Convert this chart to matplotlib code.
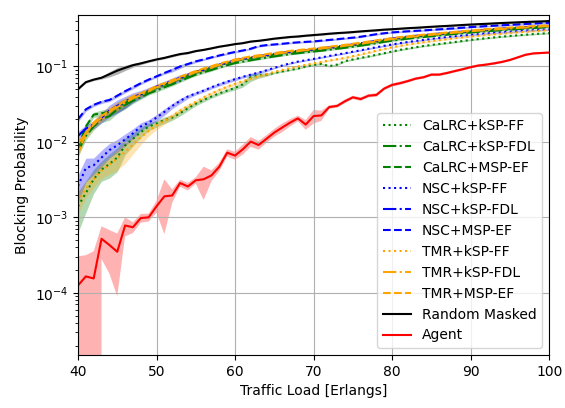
import numpy as np
import matplotlib
matplotlib.use('Agg')
import matplotlib.pyplot as plt

# traffic load axis
load = np.arange(40, 101)

# mean blocking probability per load
cal_ff = [0.0014, 0.0021, 0.0032, 0.0043, 0.0051, 0.0062, 0.0090, 0.0110, 0.0135, 0.0160,
          0.0175, 0.0195, 0.021, 0.024, 0.028, 0.032, 0.036, 0.040, 0.044, 0.048,
          0.052, 0.058, 0.072, 0.076, 0.078, 0.082, 0.086, 0.090, 0.094, 0.100,
          0.105, 0.108, 0.101, 0.106, 0.118, 0.124, 0.130, 0.136, 0.143, 0.150,
          0.158, 0.166, 0.173, 0.180, 0.187, 0.193, 0.199, 0.205, 0.211, 0.218,
          0.225, 0.231, 0.237, 0.243, 0.249, 0.254, 0.259, 0.264, 0.269, 0.273,
          0.277]
cal_fdl = [0.0075, 0.012, 0.016, 0.020, 0.022, 0.027, 0.031, 0.035, 0.039, 0.044,
           0.048, 0.053, 0.058, 0.064, 0.071, 0.078, 0.084, 0.090, 0.097, 0.104,
           0.111, 0.116, 0.121, 0.126, 0.131, 0.136, 0.141, 0.146, 0.150, 0.154,
           0.158, 0.162, 0.167, 0.172, 0.177, 0.183, 0.189, 0.196, 0.204, 0.212,
           0.220, 0.227, 0.234, 0.240, 0.246, 0.252, 0.258, 0.264, 0.270, 0.276,
           0.282, 0.288, 0.293, 0.298, 0.303, 0.308, 0.313, 0.318, 0.323, 0.328,
           0.333]
cal_msp = [0.0085, 0.016, 0.023, 0.024, 0.025, 0.029, 0.033, 0.038, 0.042, 0.047,
           0.052, 0.057, 0.062, 0.069, 0.076, 0.083, 0.089, 0.096, 0.104, 0.111,
           0.118, 0.124, 0.129, 0.134, 0.139, 0.144, 0.149, 0.154, 0.158, 0.161,
           0.165, 0.170, 0.175, 0.180, 0.185, 0.191, 0.197, 0.204, 0.212, 0.220,
           0.228, 0.236, 0.243, 0.249, 0.255, 0.261, 0.267, 0.273, 0.279, 0.285,
           0.291, 0.297, 0.302, 0.307, 0.312, 0.317, 0.322, 0.327, 0.332, 0.337,
           0.342]
nsc_ff = [0.0026, 0.0045, 0.0049, 0.0062, 0.0078, 0.0090, 0.0108, 0.0130, 0.0160, 0.0180,
          0.021, 0.025, 0.030, 0.035, 0.040, 0.044, 0.048, 0.053, 0.058, 0.063,
          0.068, 0.073, 0.078, 0.083, 0.089, 0.096, 0.103, 0.110, 0.116, 0.121,
          0.126, 0.132, 0.138, 0.144, 0.150, 0.157, 0.164, 0.172, 0.180, 0.188,
          0.196, 0.204, 0.211, 0.218, 0.225, 0.232, 0.239, 0.245, 0.251, 0.257,
          0.263, 0.268, 0.274, 0.279, 0.284, 0.289, 0.294, 0.299, 0.303, 0.307,
          0.310]
nsc_fdl = [0.012, 0.015, 0.017, 0.021, 0.026, 0.030, 0.034, 0.039, 0.043, 0.048,
           0.054, 0.059, 0.064, 0.071, 0.078, 0.085, 0.091, 0.098, 0.106, 0.113,
           0.121, 0.127, 0.132, 0.137, 0.142, 0.147, 0.152, 0.157, 0.161, 0.165,
           0.169, 0.174, 0.179, 0.184, 0.190, 0.196, 0.203, 0.211, 0.219, 0.227,
           0.235, 0.242, 0.249, 0.255, 0.261, 0.267, 0.273, 0.279, 0.285, 0.291,
           0.297, 0.303, 0.308, 0.313, 0.318, 0.323, 0.328, 0.333, 0.338, 0.343,
           0.348]
nsc_msp = [0.020, 0.027, 0.031, 0.034, 0.036, 0.041, 0.047, 0.053, 0.060, 0.067,
           0.074, 0.082, 0.090, 0.100, 0.108, 0.117, 0.124, 0.132, 0.140, 0.148,
           0.156, 0.163, 0.172, 0.186, 0.192, 0.196, 0.200, 0.205, 0.209, 0.212,
           0.215, 0.220, 0.225, 0.230, 0.236, 0.241, 0.248, 0.258, 0.268, 0.276,
           0.283, 0.288, 0.293, 0.297, 0.301, 0.306, 0.311, 0.316, 0.321, 0.327,
           0.333, 0.338, 0.343, 0.347, 0.352, 0.356, 0.361, 0.366, 0.371, 0.375,
           0.380]
tmr_ff = [0.0016, 0.0024, 0.0032, 0.0042, 0.0050, 0.0060, 0.0074, 0.0092, 0.0115, 0.0140,
          0.0165, 0.019, 0.022, 0.026, 0.030, 0.034, 0.039, 0.044, 0.049, 0.054,
          0.059, 0.064, 0.069, 0.074, 0.079, 0.085, 0.090, 0.095, 0.100, 0.105,
          0.110, 0.115, 0.120, 0.125, 0.130, 0.137, 0.145, 0.153, 0.162, 0.171,
          0.180, 0.188, 0.196, 0.203, 0.210, 0.217, 0.224, 0.231, 0.238, 0.244,
          0.250, 0.256, 0.262, 0.268, 0.273, 0.279, 0.284, 0.289, 0.294, 0.299,
          0.303]
tmr_fdl = [0.0095, 0.013, 0.017, 0.021, 0.025, 0.029, 0.033, 0.038, 0.042, 0.047,
           0.053, 0.058, 0.063, 0.070, 0.077, 0.084, 0.090, 0.097, 0.105, 0.112,
           0.120, 0.126, 0.131, 0.136, 0.141, 0.146, 0.151, 0.156, 0.160, 0.164,
           0.168, 0.173, 0.178, 0.183, 0.188, 0.194, 0.200, 0.207, 0.215, 0.223,
           0.231, 0.238, 0.245, 0.251, 0.257, 0.263, 0.269, 0.275, 0.281, 0.287,
           0.293, 0.299, 0.304, 0.309, 0.314, 0.319, 0.324, 0.329, 0.334, 0.339,
           0.344]
tmr_msp = [0.0070, 0.013, 0.018, 0.022, 0.026, 0.030, 0.035, 0.040, 0.044, 0.049,
           0.055, 0.060, 0.066, 0.073, 0.080, 0.087, 0.094, 0.101, 0.109, 0.116,
           0.124, 0.130, 0.136, 0.141, 0.146, 0.151, 0.156, 0.161, 0.165, 0.169,
           0.173, 0.178, 0.183, 0.188, 0.194, 0.200, 0.207, 0.214, 0.222, 0.230,
           0.238, 0.245, 0.252, 0.258, 0.264, 0.270, 0.276, 0.282, 0.288, 0.294,
           0.300, 0.306, 0.312, 0.318, 0.323, 0.328, 0.333, 0.338, 0.343, 0.348,
           0.353]
rand_masked = [0.050, 0.062, 0.067, 0.071, 0.079, 0.088, 0.096, 0.104, 0.110, 0.117,
               0.124, 0.130, 0.138, 0.146, 0.151, 0.160, 0.166, 0.174, 0.183, 0.190,
               0.198, 0.204, 0.214, 0.219, 0.226, 0.234, 0.240, 0.246, 0.250, 0.256,
               0.261, 0.266, 0.272, 0.277, 0.281, 0.286, 0.292, 0.297, 0.302, 0.308,
               0.312, 0.317, 0.322, 0.326, 0.331, 0.336, 0.341, 0.345, 0.350, 0.355,
               0.360, 0.364, 0.368, 0.373, 0.377, 0.381, 0.385, 0.389, 0.393, 0.396,
               0.400]
agent = [1.25e-4, 1.65e-4, 1.55e-4, 5.2e-4, 4.3e-4, 3.5e-4, 7.8e-4, 7.4e-4, 9.8e-4, 1.0e-3,
         1.4e-3, 1.9e-3, 1.95e-3, 2.85e-3, 2.57e-3, 3.1e-3, 3.2e-3, 3.6e-3, 4.7e-3, 7.2e-3,
         6.6e-3, 8.0e-3, 0.0101, 0.0091, 0.0110, 0.0133, 0.0155, 0.018, 0.0205, 0.017,
         0.022, 0.0225, 0.029, 0.030, 0.0346, 0.039, 0.037, 0.041, 0.042, 0.051,
         0.057, 0.060, 0.064, 0.069, 0.072, 0.078, 0.078, 0.082, 0.087, 0.092,
         0.098, 0.103, 0.106, 0.110, 0.115, 0.122, 0.132, 0.143, 0.149, 0.151,
         0.153]

# spread (absolute std) of the agent runs
agent_std = [1.8e-4, 1.5e-4, 2.0e-4, 2.4e-4, 2.5e-4, 2.6e-4, 2.2e-4, 1.2e-4, 1.3e-4, 1.2e-4,
             2.5e-4, 1.3e-3, 4e-4, 3e-4, 3e-4, 3e-4, 1.5e-3, 6e-4, 6e-4, 8e-4,
             8e-4, 1.2e-3, 1.5e-3, 1.2e-3, 1.3e-3, 1.6e-3, 2.0e-3, 2.0e-3, 1.8e-3, 2.5e-3,
             4.5e-3, 3.5e-3, 1.5e-3, 1.5e-3, 2e-3, 2e-3, 2e-3, 2e-3, 2.5e-3, 2.5e-3,
             3e-3, 3e-3, 3e-3, 3e-3, 3e-3, 3.5e-3, 3.5e-3, 3.5e-3, 3.5e-3, 4e-3,
             4e-3, 4e-3, 4e-3, 4.5e-3, 4.5e-3, 4.5e-3, 5e-3, 5e-3, 5e-3, 5e-3,
             5e-3]

# relative spread for the heuristics (first 25 loads, after that it is small)
cal_ff_rel = [0.55, 0.45, 0.35, 0.30, 0.35, 0.35, 0.25, 0.20, 0.15, 0.12,
              0.10, 0.10, 0.08, 0.08, 0.08, 0.06, 0.06, 0.05, 0.05, 0.05,
              0.06, 0.08, 0.12, 0.08, 0.05]
cal_fdl_rel = [0.15, 0.12, 0.10, 0.10, 0.12, 0.12, 0.12, 0.08, 0.06, 0.05,
               0.05, 0.05, 0.05, 0.04, 0.04, 0.04, 0.04, 0.04, 0.03, 0.03,
               0.03, 0.03, 0.03, 0.03, 0.03]
cal_msp_rel = [0.12, 0.10, 0.08, 0.10, 0.12, 0.15, 0.15, 0.10, 0.06, 0.05,
               0.05, 0.05, 0.04, 0.04, 0.04, 0.04, 0.04, 0.04, 0.03, 0.03,
               0.03, 0.03, 0.03, 0.03, 0.03]
nsc_ff_rel = [0.40, 0.35, 0.25, 0.25, 0.22, 0.20, 0.18, 0.15, 0.12, 0.10,
              0.10, 0.10, 0.08, 0.08, 0.06, 0.05, 0.05, 0.05, 0.05, 0.05,
              0.05, 0.04, 0.04, 0.04, 0.04]
nsc_fdl_rel = [0.15, 0.12, 0.12, 0.15, 0.18, 0.20, 0.18, 0.15, 0.12, 0.10,
               0.08, 0.08, 0.10, 0.10, 0.06, 0.05, 0.04, 0.04, 0.03, 0.03,
               0.03, 0.03, 0.03, 0.03, 0.03]
nsc_msp_rel = [0.08, 0.06, 0.05, 0.05, 0.05, 0.05, 0.05, 0.05, 0.04, 0.04,
               0.04, 0.04, 0.06, 0.06, 0.04, 0.04, 0.03, 0.03, 0.03, 0.03,
               0.03, 0.03, 0.03, 0.03, 0.03]
tmr_ff_rel = [0.30, 0.25, 0.22, 0.22, 0.25, 0.30, 0.30, 0.25, 0.20, 0.15,
              0.12, 0.10, 0.08, 0.08, 0.06, 0.05, 0.05, 0.05, 0.05, 0.05,
              0.05, 0.04, 0.04, 0.04, 0.04]
tmr_fdl_rel = [0.12, 0.12, 0.10, 0.12, 0.12, 0.12, 0.10, 0.08, 0.06, 0.05,
               0.05, 0.05, 0.04, 0.04, 0.04, 0.04, 0.04, 0.03, 0.03, 0.03,
               0.03, 0.03, 0.03, 0.03, 0.03]
tmr_msp_rel = [0.12, 0.12, 0.10, 0.10, 0.12, 0.12, 0.10, 0.08, 0.06, 0.05,
               0.05, 0.05, 0.04, 0.04, 0.04, 0.04, 0.04, 0.03, 0.03, 0.03,
               0.03, 0.03, 0.03, 0.03, 0.03]
rand_rel = [0.03, 0.03, 0.03, 0.04, 0.08, 0.10, 0.08, 0.06, 0.04, 0.03,
            0.03, 0.03, 0.03, 0.03, 0.03, 0.02, 0.02, 0.02, 0.02, 0.02,
            0.02, 0.02, 0.02, 0.02, 0.02]
tail_rel = 0.025

series = [
    ('CaLRC+kSP-FF', cal_ff, cal_ff_rel, 'green', ':'),
    ('CaLRC+kSP-FDL', cal_fdl, cal_fdl_rel, 'green', '-.'),
    ('CaLRC+MSP-EF', cal_msp, cal_msp_rel, 'green', '--'),
    ('NSC+kSP-FF', nsc_ff, nsc_ff_rel, 'blue', ':'),
    ('NSC+kSP-FDL', nsc_fdl, nsc_fdl_rel, 'blue', '-.'),
    ('NSC+MSP-EF', nsc_msp, nsc_msp_rel, 'blue', '--'),
    ('TMR+kSP-FF', tmr_ff, tmr_ff_rel, 'orange', ':'),
    ('TMR+kSP-FDL', tmr_fdl, tmr_fdl_rel, 'orange', '-.'),
    ('TMR+MSP-EF', tmr_msp, tmr_msp_rel, 'orange', '--'),
    ('Random Masked', rand_masked, rand_rel, 'black', '-'),
]

fig, ax = plt.subplots(figsize=(5.65, 4.08), dpi=100)
fig.subplots_adjust(left=0.138, right=0.972, top=0.963, bottom=0.13)

for name, mean, rel, color, ls in series:
    mean = np.array(mean)
    r = np.array(rel + [tail_rel] * (len(mean) - len(rel)))
    ax.fill_between(load, mean * (1 - r), mean * (1 + r), color=color, alpha=0.3, linewidth=0)
    ax.plot(load, mean, color=color, linestyle=ls, label=name)

agent = np.array(agent)
agent_std = np.array(agent_std)
ax.fill_between(load, agent - agent_std, agent + agent_std, color='red', alpha=0.3, linewidth=0)
ax.plot(load, agent, color='red', label='Agent')

ax.set_yscale('log', nonpositive='clip')
ax.set_xlim(40, 100)
ax.set_ylim(1.5e-5, 0.48)
ax.grid(True)
ax.set_xlabel('Traffic Load [Erlangs]')
ax.set_ylabel('Blocking Probability')
ax.legend(loc='lower right')

fig.savefig('out.png', dpi=100)
